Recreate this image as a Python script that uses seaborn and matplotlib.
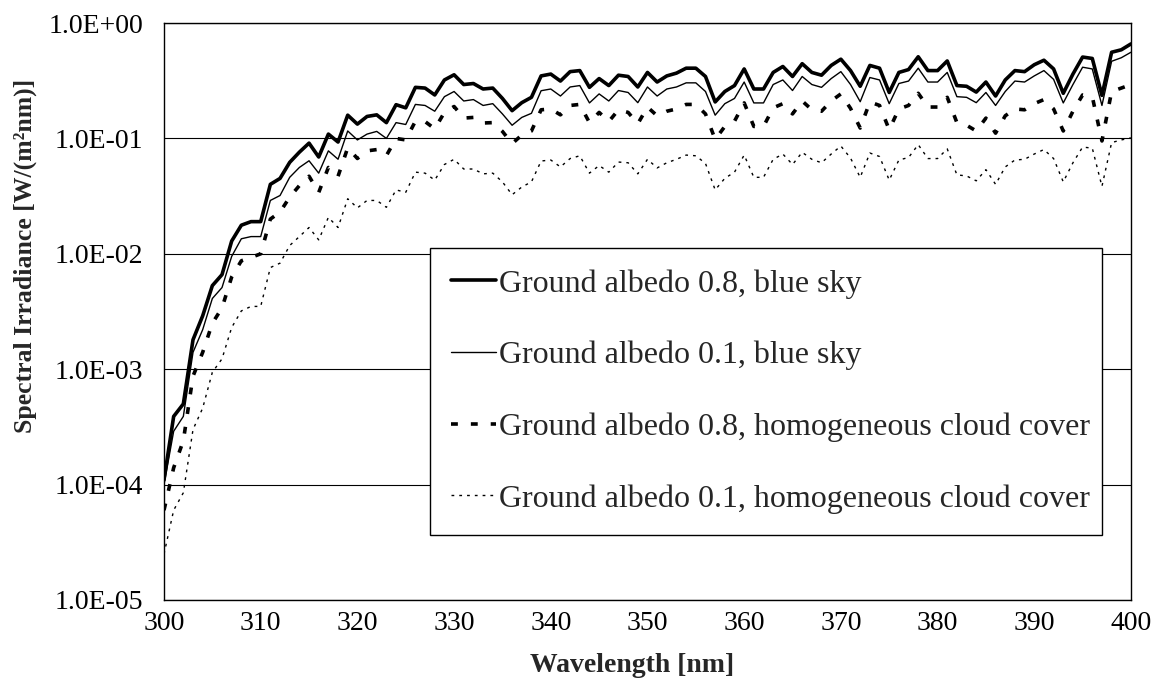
import matplotlib
matplotlib.use("Agg")
import matplotlib.pyplot as plt
from matplotlib.ticker import FixedLocator, FuncFormatter
import numpy as np
import pandas as pd
import seaborn as sns

# Wavelength grid [nm]
wavelength = list(range(300, 401))

# Spectral irradiance [W/(m²nm)] for each scenario
albedo08_blue = [
    1.1e-4, 3.9e-4, 5.0e-4, 1.8e-3, 2.9e-3, 5.3e-3, 6.6e-3, 1.29e-2, 1.77e-2, 1.9e-2,
    1.9e-2, 4.0e-2, 4.5e-2, 6.2e-2, 7.6e-2, 9.1e-2, 6.9e-2, 0.109, 0.093, 0.159,
    0.133, 0.155, 0.160, 0.137, 0.196, 0.184, 0.277, 0.273, 0.238, 0.321,
    0.356, 0.293, 0.299, 0.268, 0.273, 0.222, 0.174, 0.204, 0.227, 0.348,
    0.361, 0.314, 0.379, 0.387, 0.277, 0.330, 0.287, 0.353, 0.344, 0.279,
    0.373, 0.308, 0.348, 0.368, 0.406, 0.406, 0.344, 0.207, 0.255, 0.287,
    0.400, 0.268, 0.268, 0.373, 0.420, 0.344, 0.444, 0.373, 0.353, 0.429,
    0.486, 0.387, 0.283, 0.429, 0.406, 0.250, 0.373, 0.395, 0.510, 0.387,
    0.387, 0.469, 0.287, 0.283, 0.252, 0.308, 0.233, 0.321, 0.387, 0.379,
    0.435, 0.476, 0.400, 0.246, 0.361, 0.507, 0.493, 0.236, 0.558, 0.586,
    0.659,
]
albedo01_blue = [
    1.0e-4, 2.9e-4, 3.9e-4, 1.4e-3, 2.2e-3, 4.1e-3, 5.1e-3, 9.5e-3, 1.35e-2, 1.41e-2,
    1.41e-2, 2.9e-2, 3.2e-2, 4.6e-2, 5.6e-2, 6.4e-2, 5.0e-2, 7.8e-2, 6.6e-2, 0.116,
    0.097, 0.109, 0.115, 0.100, 0.137, 0.132, 0.197, 0.193, 0.172, 0.230,
    0.255, 0.211, 0.217, 0.193, 0.200, 0.163, 0.130, 0.152, 0.165, 0.259,
    0.268, 0.233, 0.279, 0.287, 0.203, 0.243, 0.211, 0.260, 0.250, 0.204,
    0.279, 0.233, 0.268, 0.279, 0.303, 0.303, 0.255, 0.159, 0.200, 0.222,
    0.308, 0.203, 0.203, 0.293, 0.321, 0.260, 0.344, 0.293, 0.277, 0.330,
    0.379, 0.293, 0.208, 0.337, 0.321, 0.200, 0.299, 0.314, 0.406, 0.308,
    0.308, 0.373, 0.230, 0.227, 0.204, 0.250, 0.193, 0.255, 0.314, 0.308,
    0.348, 0.387, 0.325, 0.203, 0.293, 0.414, 0.400, 0.193, 0.466, 0.500,
    0.558,
]
albedo08_cloud = [
    6.0e-5, 1.4e-4, 2.4e-4, 8.7e-4, 1.4e-3, 2.5e-3, 3.4e-3, 6.3e-3, 8.7e-3, 9.3e-3,
    1.0e-2, 2.0e-2, 2.3e-2, 3.1e-2, 3.9e-2, 4.7e-2, 3.4e-2, 5.6e-2, 4.7e-2, 8.3e-2,
    6.7e-2, 7.8e-2, 8.0e-2, 7.1e-2, 0.100, 0.097, 0.141, 0.140, 0.121, 0.168,
    0.189, 0.150, 0.152, 0.136, 0.137, 0.115, 0.090, 0.107, 0.116, 0.177,
    0.180, 0.160, 0.193, 0.197, 0.137, 0.168, 0.140, 0.177, 0.168, 0.134,
    0.187, 0.157, 0.172, 0.180, 0.197, 0.197, 0.163, 0.098, 0.127, 0.141,
    0.203, 0.127, 0.127, 0.184, 0.200, 0.163, 0.211, 0.177, 0.172, 0.211,
    0.243, 0.182, 0.123, 0.207, 0.193, 0.119, 0.180, 0.193, 0.246, 0.187,
    0.187, 0.227, 0.137, 0.130, 0.116, 0.150, 0.111, 0.157, 0.180, 0.177,
    0.200, 0.217, 0.180, 0.116, 0.172, 0.238, 0.230, 0.095, 0.255, 0.273,
    0.293,
]
albedo01_cloud = [
    2.5e-5, 6.0e-5, 8.5e-5, 3.0e-4, 4.6e-4, 9.4e-4, 1.23e-3, 2.3e-3, 3.2e-3, 3.5e-3,
    3.5e-3, 7.6e-3, 8.3e-3, 1.18e-2, 1.41e-2, 1.69e-2, 1.32e-2, 2.07e-2, 1.69e-2, 3.0e-2,
    2.5e-2, 2.9e-2, 2.9e-2, 2.53e-2, 3.58e-2, 3.41e-2, 5.1e-2, 5.0e-2, 4.35e-2, 5.94e-2,
    6.59e-2, 5.43e-2, 5.43e-2, 4.93e-2, 5.0e-2, 4.2e-2, 3.25e-2, 3.79e-2, 4.2e-2, 6.37e-2,
    6.5e-2, 5.66e-2, 6.69e-2, 7.07e-2, 5.0e-2, 5.82e-2, 5.1e-2, 6.24e-2, 6.15e-2, 4.93e-2,
    6.59e-2, 5.55e-2, 6.15e-2, 6.59e-2, 7.17e-2, 7.07e-2, 6.07e-2, 3.58e-2, 4.51e-2, 5.1e-2,
    7.17e-2, 4.6e-2, 4.6e-2, 6.59e-2, 7.32e-2, 5.94e-2, 7.58e-2, 6.59e-2, 6.15e-2, 7.32e-2,
    8.59e-2, 6.75e-2, 4.6e-2, 7.47e-2, 6.97e-2, 4.35e-2, 6.5e-2, 6.83e-2, 8.83e-2, 6.69e-2,
    6.69e-2, 8.12e-2, 4.83e-2, 4.73e-2, 4.29e-2, 5.36e-2, 4.0e-2, 5.66e-2, 6.5e-2, 6.59e-2,
    7.32e-2, 8.01e-2, 6.69e-2, 4.2e-2, 6.15e-2, 8.41e-2, 8.24e-2, 3.84e-2, 9.2e-2, 9.7e-2,
    0.101,
]

series_labels = [
    "Ground albedo 0.8, blue sky",
    "Ground albedo 0.1, blue sky",
    "Ground albedo 0.8, homogeneous cloud cover",
    "Ground albedo 0.1, homogeneous cloud cover",
]
x_ticks = list(range(300, 401, 10))
y_ticks = [1e-5, 1e-4, 1e-3, 1e-2, 1e-1, 1e0]

sns.set_style("white")
plt.rcParams["font.family"] = ["Liberation Serif", "DejaVu Serif"]

fig = plt.figure(figsize=(11.59, 6.91), dpi=100)
ax = fig.add_axes([0.1415, 0.1317, 0.8343, 0.835])

styles = [
    dict(linewidth=2.6, linestyle="-"),
    dict(linewidth=1.0, linestyle="-"),
    dict(linewidth=2.6, linestyle=(0, (1.9, 3.6))),
    dict(linewidth=1.0, linestyle=(0, (2.0, 3.6))),
]
for values, label, st in zip(
    [albedo08_blue, albedo01_blue, albedo08_cloud, albedo01_cloud], series_labels, styles
):
    df = pd.DataFrame({"wl": wavelength, "irr": values})
    sns.lineplot(data=df, x="wl", y="irr", ax=ax, color="black", label=label,
                 dash_capstyle="butt", **st)

ax.set_yscale("log")
ax.set_xlim(300, 400)
ax.set_ylim(1e-5, 1e0)
ax.xaxis.set_major_locator(FixedLocator(x_ticks))
ax.yaxis.set_major_locator(FixedLocator(y_ticks))
ax.yaxis.set_minor_locator(FixedLocator([]))
ax.yaxis.set_major_formatter(FuncFormatter(lambda v, _: f"{v:.1E}"))
ax.xaxis.set_major_formatter(FuncFormatter(lambda v, _: f"{int(round(v))}"))

ax.grid(axis="y", color="black", linewidth=0.8)
ax.set_axisbelow(True)
for sp in ax.spines.values():
    sp.set_color("black")
    sp.set_linewidth(1.0)

ax.tick_params(axis="both", which="major", direction="out", length=5, width=1,
               color="black", labelsize=20, labelcolor="black")
ax.tick_params(axis="x", pad=3)
ax.tick_params(axis="y", pad=10)

ax.set_xlabel("Wavelength [nm]", fontsize=20, fontweight="bold")
ax.set_ylabel("Spectral Irradiance [W/(m²nm)]", fontsize=18.5, fontweight="bold")
ax.xaxis.set_label_coords(0.484, -0.113)
ax.xaxis.label.set_va("center")
ax.yaxis.set_label_coords(-0.143, 0.596)
ax.yaxis.label.set_va("center")

leg = ax.legend(loc="upper left", bbox_to_anchor=(0.275, 0.61, 0.695, 0.0), mode="expand",
                frameon=True, fancybox=False, shadow=False, framealpha=1,
                edgecolor="black", fontsize=23, handlelength=1.4, handletextpad=0.1,
                labelspacing=1.32, borderpad=0.66, borderaxespad=0)
leg.get_frame().set_linewidth(1.0)

fig.savefig("out.png", dpi=100)
